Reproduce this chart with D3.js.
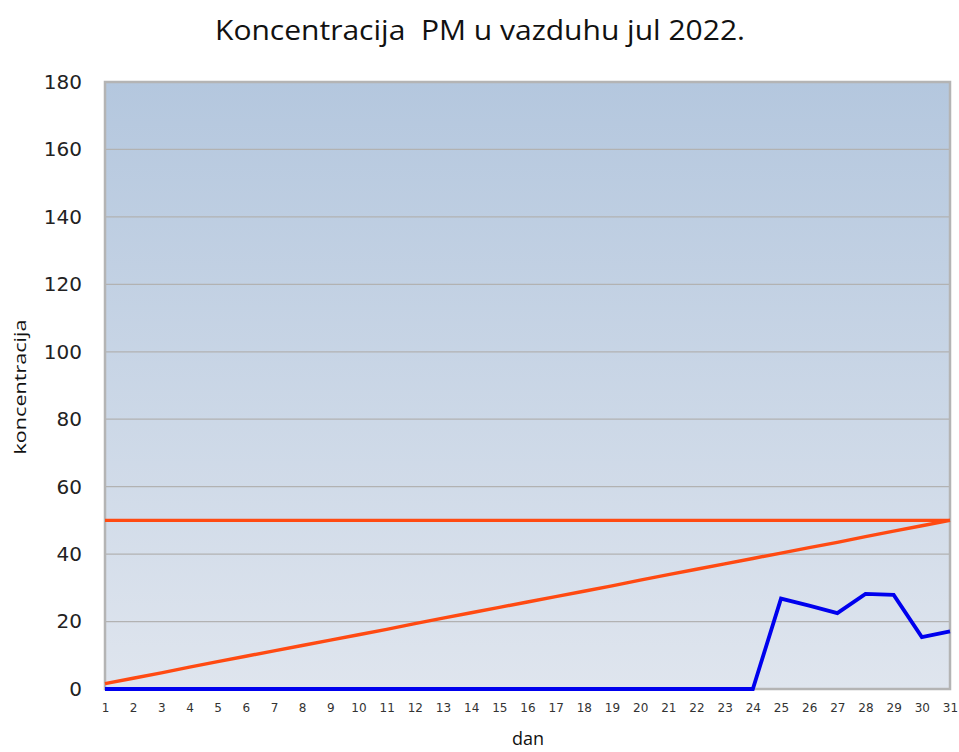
<!DOCTYPE html>
<html>
<head>
<meta charset="utf-8">
<script src="https://cdn.jsdelivr.net/npm/d3@7"></script>
<style>
  body { margin: 0; background: #fff; }
  svg { display: block; }
</style>
</head>
<body>
<svg id="drawing_region"></svg>
<script>
// days of July 2022
const days = d3.range(1, 32);
// measured PM concentration (blue)
const measured = [0,0,0,0,0,0,0,0,0,0,0,0,0,0,0,0,0,0,0,0,0,0,0,0,
                  26.8,24.7,22.5,28.2,27.9,15.4,17.1];
// limit value (horizontal orange)
const limit = [50,50,50,50,50,50,50,50,50,50,50,50,50,50,50,50,
               50,50,50,50,50,50,50,50,50,50,50,50,50,50,50];
// diagonal orange line
const trend = [1.6,3.2,4.8,6.5,8.1,9.7,11.3,12.9,14.5,16.1,17.7,19.4,21.0,22.6,24.2,25.8,
               27.4,29.0,30.6,32.3,33.9,35.5,37.1,38.7,40.3,41.9,43.5,45.2,46.8,48.4,50.0];
const yTicks = [0,20,40,60,80,100,120,140,160,180];

const config = {
    width: 959,
    height: 752,
    margin: {top:82, right:9, bottom:63, left:105}
};

const svg = d3.select('#drawing_region')
    .attr('width', config.width)
    .attr('height', config.height);

const inner_width = config.width - config.margin.left - config.margin.right;
const inner_height = config.height - config.margin.top - config.margin.bottom;

const defs = svg.append('defs');
const grad = defs.append('linearGradient')
    .attr('id', 'bg').attr('x1', 0).attr('y1', 0).attr('x2', 0).attr('y2', 1);
grad.append('stop').attr('offset', '0%').attr('stop-color', '#b4c7de');
grad.append('stop').attr('offset', '100%').attr('stop-color', '#dfe5ee');

const chart = svg.append('g')
    .attr('transform', `translate(${config.margin.left}, ${config.margin.top})`);

const xscale = d3.scaleLinear()
    .domain([1, 31])
    .range([0, inner_width]);

const yscale = d3.scaleLinear()
    .domain([0, 180])
    .range([inner_height, 0]);

// background
chart.append('rect')
    .attr('x', 0).attr('y', 0)
    .attr('width', inner_width).attr('height', inner_height)
    .attr('fill', 'url(#bg)');

// gridlines
chart.append('g')
    .selectAll('line')
    .data(yTicks.filter(t => t > 0 && t < 180))
    .join('line')
    .attr('x1', 0).attr('x2', inner_width)
    .attr('y1', d => yscale(d)).attr('y2', d => yscale(d))
    .attr('stroke', '#b2b2b2')
    .attr('stroke-width', 1.3);

// border
chart.append('rect')
    .attr('x', 0).attr('y', 0)
    .attr('width', inner_width).attr('height', inner_height)
    .attr('fill', 'none')
    .attr('stroke', '#b4b4b4')
    .attr('stroke-width', 2.5);

// y axis labels
const yaxis = d3.axisLeft(yscale)
    .tickValues(yTicks)
    .tickSize(0)
    .tickPadding(23);

const yaxis_group = chart.append('g').call(yaxis);
yaxis_group.select('.domain').remove();
yaxis_group.selectAll('text')
    .attr('font-family', '"DejaVu Sans", sans-serif')
    .attr('font-size', '20px')
    .attr('fill', '#222');

// x axis labels
const xaxis = d3.axisBottom(xscale)
    .tickValues(days)
    .tickFormat(d3.format('d'))
    .tickSize(0)
    .tickPadding(14);

const xaxis_group = chart.append('g')
    .attr('transform', `translate(0, ${inner_height})`)
    .call(xaxis);
xaxis_group.select('.domain').remove();
xaxis_group.selectAll('text')
    .attr('font-family', '"DejaVu Sans", sans-serif')
    .attr('font-size', '12px')
    .attr('fill', '#333');

// lines
const line = d3.line()
    .x((d, i) => xscale(days[i]))
    .y(d => yscale(d));

chart.append('path')
    .datum(limit)
    .attr('d', line)
    .attr('fill', 'none')
    .attr('stroke', '#ff4a12')
    .attr('stroke-width', 3.4);

chart.append('path')
    .datum(trend)
    .attr('d', line)
    .attr('fill', 'none')
    .attr('stroke', '#ff4a12')
    .attr('stroke-width', 3.4);

chart.append('path')
    .datum(measured)
    .attr('d', line)
    .attr('fill', 'none')
    .attr('stroke', '#0000ee')
    .attr('stroke-width', 3.8);

// title and axis labels
svg.append('text')
    .attr('x', 480)
    .attr('y', 40)
    .attr('text-anchor', 'middle')
    .attr('font-family', '"Open Sans", sans-serif')
    .attr('font-size', '28px')
    .attr('textLength', 530)
    .attr('lengthAdjust', 'spacingAndGlyphs')
    .attr('xml:space', 'preserve')
    .attr('fill', '#111')
    .text('Koncentracija  PM u vazduhu jul 2022.');

svg.append('text')
    .attr('x', 528)
    .attr('y', 745)
    .attr('text-anchor', 'middle')
    .attr('font-family', '"Open Sans", sans-serif')
    .attr('font-size', '18px')
    .attr('fill', '#111')
    .text('dan');

svg.append('text')
    .attr('transform', 'translate(26, 387) rotate(-90)')
    .attr('text-anchor', 'middle')
    .attr('font-family', '"Open Sans", sans-serif')
    .attr('font-size', '17px')
    .attr('textLength', 135)
    .attr('lengthAdjust', 'spacingAndGlyphs')
    .attr('fill', '#111')
    .text('koncentracija');
</script>
</body>
</html>
